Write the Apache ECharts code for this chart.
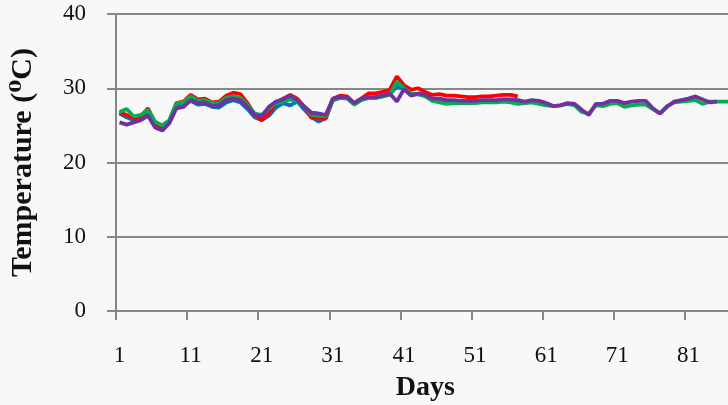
<!DOCTYPE html>
<html>
<head>
<meta charset="utf-8">
<script src="https://cdn.jsdelivr.net/npm/echarts@6/dist/echarts.min.js"></script>
<style>
  html, body { margin: 0; padding: 0; background: #f8f8f8; }
  #chart { width: 728px; height: 405px; }
</style>
</head>
<body>
<div id="chart"></div>
<script>
// days 1..87 (the right end of the axis is cut off in the picture)
const days = []
for (let d = 1; d <= 87; d++) days.push(String(d))

const yTicks = [0, 10, 20, 30, 40]

const blueTemp = [26.6, 26.1, 25.7, 25.9, 26.6, 24.9, 24.5, 25.4, 27.6, 27.7,
  28.3, 27.8, 27.9, 27.5, 27.4, 28.1, 28.4, 28.1, 27.2, 26.1,
  25.7, 26.3, 27.4, 28.0, 27.7, 28.2, 27.1, 26.1, 25.5, 26.0,
  28.4, 28.7, 28.7, 27.9, 28.5, 28.7, 28.7, 28.9, 29.2, 30.2,
  29.9, 29.1, 29.2, 29.0, 28.4, 28.3, 28.1, 28.2, 28.1, 28.1,
  28.1, 28.2, 28.2, 28.2, 28.3, 28.3, 28.1]

const redTemp = [26.8, 26.4, 26.0, 26.2, 27.3, 25.3, 24.8, 25.6, 28.0, 28.2,
  29.1, 28.5, 28.6, 28.1, 28.2, 29.0, 29.4, 29.2, 28.0, 26.4,
  25.7, 26.6, 28.0, 28.6, 29.1, 28.6, 27.5, 26.0, 25.9, 25.9,
  28.6, 29.0, 28.9, 28.0, 28.6, 29.3, 29.3, 29.5, 29.8, 31.6,
  30.4, 29.8, 30.0, 29.5, 29.1, 29.2, 29.0, 29.0, 28.9, 28.8,
  28.8, 28.9, 28.9, 29.0, 29.1, 29.1, 28.9]

const greenTemp = [26.8, 27.2, 26.2, 26.4, 27.1, 25.5, 25.0, 25.7, 28.0, 28.1,
  28.9, 28.3, 28.4, 28.0, 28.0, 28.7, 28.9, 28.7, 27.8, 26.6,
  26.4, 27.3, 28.0, 28.2, 28.5, 28.2, 27.5, 26.4, 26.3, 26.2,
  28.4, 28.7, 28.6, 27.8, 28.4, 28.7, 28.7, 28.9, 29.1, 30.9,
  30.0, 29.3, 29.2, 28.9, 28.3, 28.1, 27.9, 28.0, 28.0, 28.0,
  28.0, 28.1, 28.1, 28.1, 28.2, 28.1, 27.9, 28.0, 28.1, 27.9,
  27.7, 27.6, 27.7, 27.9, 27.7, 26.8, 26.6, 27.7, 27.6, 27.9,
  28.0, 27.5, 27.7, 27.8, 27.8, 27.2, 26.6, 27.6, 28.1, 28.2,
  28.3, 28.4, 27.9, 28.2, 28.2, 28.2, 28.2]

const purpleTemp = [25.4, 25.1, 25.4, 25.7, 26.3, 24.7, 24.3, 25.3, 27.3, 27.5,
  28.4, 28.0, 28.1, 27.6, 27.7, 28.4, 28.6, 28.4, 27.5, 26.4,
  26.2, 27.5, 28.2, 28.5, 29.0, 28.4, 27.5, 26.7, 26.6, 26.4,
  28.6, 28.8, 28.8, 28.0, 28.6, 28.8, 28.8, 29.0, 29.3, 28.2,
  29.9, 29.0, 29.3, 29.1, 28.6, 28.6, 28.4, 28.4, 28.3, 28.3,
  28.3, 28.4, 28.4, 28.4, 28.5, 28.5, 28.4, 28.2, 28.4, 28.3,
  28.0, 27.6, 27.7, 28.0, 27.9, 27.1, 26.4, 27.9, 27.9, 28.3,
  28.3, 28.0, 28.2, 28.3, 28.3, 27.3, 26.6, 27.5, 28.2, 28.4,
  28.6, 28.9, 28.5, 28.1, 28.2]

const FONT = "'Liberation Serif', 'DejaVu Serif', serif"
const GRID_COLOR = '#878787'

function makeLine (name, data, color) {
  return {
    name: name,
    type: 'line',
    data: data,
    showSymbol: false,
    symbol: 'none',
    lineStyle: { color: color, width: 3.8 },
    itemStyle: { color: color },
    animation: false
  }
}

const chart = echarts.init(document.getElementById('chart'), null, { renderer: 'canvas' })
chart.setOption({
  backgroundColor: '#f8f8f8',
  animation: false,
  grid: { left: 116, top: 14, width: 618.6, height: 297, containLabel: false, outerBoundsMode: 'none' },
  xAxis: {
    type: 'category',
    data: days,
    boundaryGap: true,
    name: 'Days',
    nameLocation: 'middle',
    nameGap: 63,
    nameTextStyle: { fontFamily: FONT, fontWeight: 'bold', fontSize: 28, color: '#111' },
    axisLine: { lineStyle: { color: GRID_COLOR, width: 2 } },
    axisTick: { show: true, interval: 9, length: 9, lineStyle: { color: GRID_COLOR, width: 2 } },
    axisLabel: { interval: 9, margin: 33, fontFamily: FONT, fontSize: 23, color: '#111' },
    splitLine: { show: false }
  },
  yAxis: {
    type: 'value',
    min: yTicks[0],
    max: yTicks[yTicks.length - 1],
    interval: 10,
    name: 'Temperature (⁰C)',
    nameLocation: 'middle',
    nameGap: 78,
    nameRotate: 90,
    nameTextStyle: { fontFamily: FONT, fontWeight: 'bold', fontSize: 30, color: '#111' },
    axisLine: { show: true, lineStyle: { color: GRID_COLOR, width: 2 } },
    axisTick: { show: true, length: 9, lineStyle: { color: GRID_COLOR, width: 2 } },
    axisLabel: { margin: 30, fontFamily: FONT, fontSize: 23, color: '#111' },
    splitLine: { show: true, lineStyle: { color: GRID_COLOR, width: 2 } }
  },
  series: [
    makeLine('Series 1', blueTemp, '#0070C0'),
    makeLine('Series 2', redTemp, '#FF0000'),
    makeLine('Series 3', greenTemp, '#00B050'),
    makeLine('Series 4', purpleTemp, '#7030A0')
  ]
})
</script>
</body>
</html>
